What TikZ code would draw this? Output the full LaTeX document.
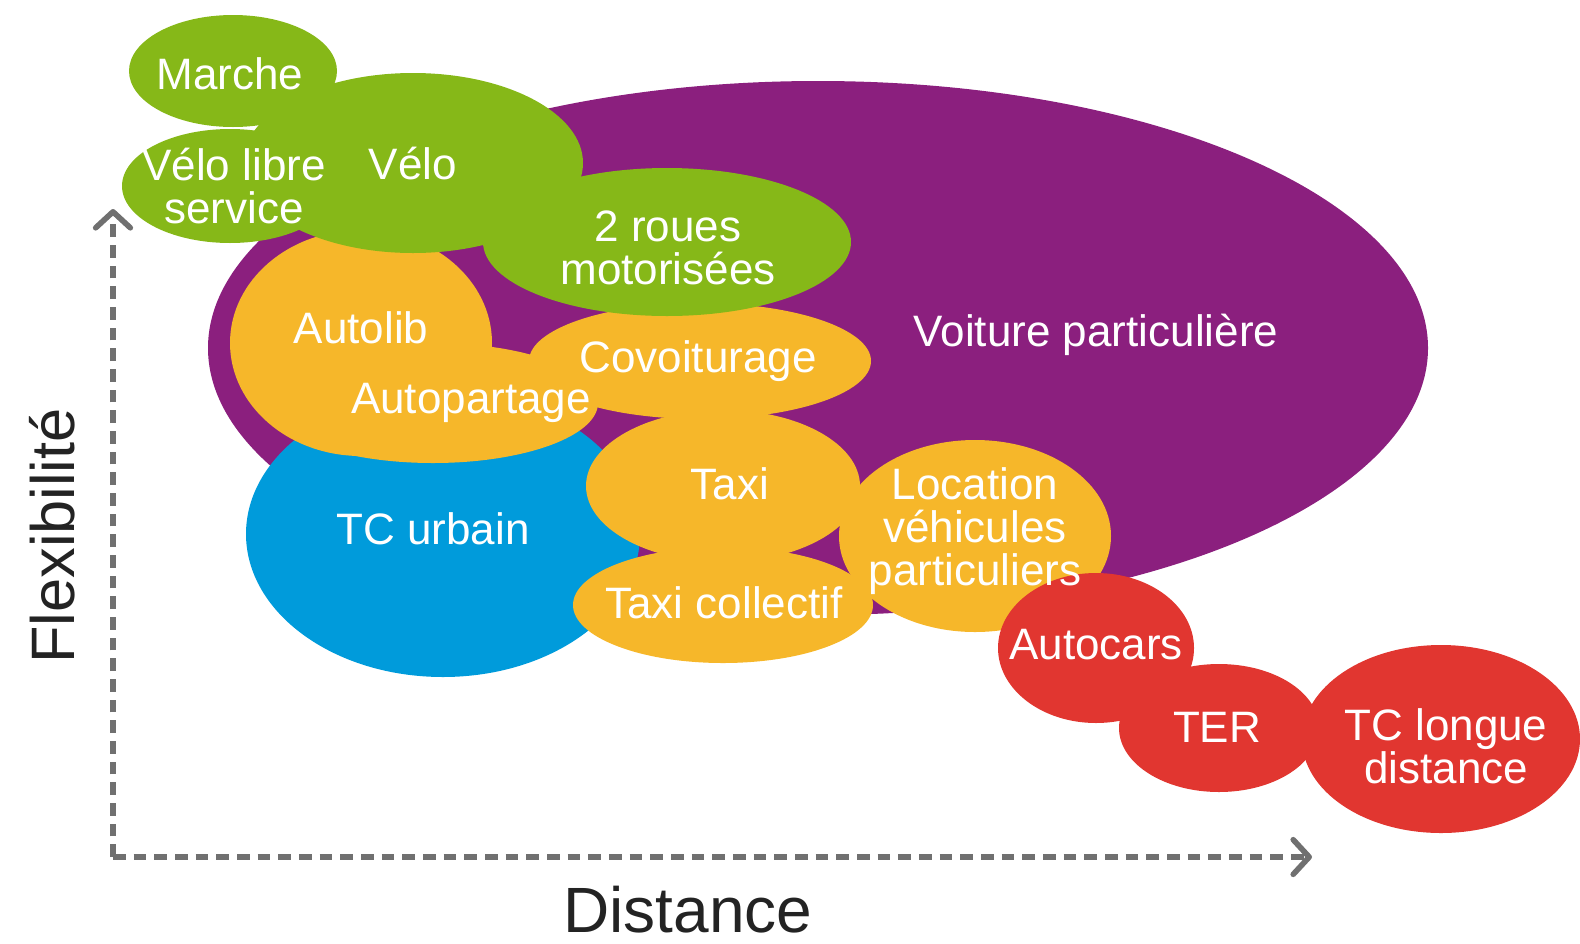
\documentclass[tikz,border=0pt]{standalone}
\usepackage{fontspec}
\setmainfont{Liberation Sans}
\usepackage{xcolor}
\usetikzlibrary{arrows.meta}

\begin{document}
\begin{tikzpicture}[x=0.75pt,y=0.75pt,yscale=-1,xscale=1,
  fillpurple/.style={fill={rgb, 255:red, 139; green, 31; blue, 126 }},
  fillblue/.style={fill={rgb, 255:red, 0; green, 155; blue, 219 }},
  fillorange/.style={fill={rgb, 255:red, 246; green, 183; blue, 42 }},
  fillgreen/.style={fill={rgb, 255:red, 134; green, 184; blue, 24 }},
  fillred/.style={fill={rgb, 255:red, 225; green, 54; blue, 48 }},
  lbl/.style={inner sep=0.75pt,align=center,text=white,font=\fontsize{33}{32.5}\selectfont},
  axis/.style={color={rgb, 255:red, 112; green, 112; blue, 112 },line width=4.2pt,dash pattern=on 9.5pt off 6pt,-{Straight Barb[round,length=12pt,width=26pt]}},
  axislbl/.style={inner sep=0pt,text={rgb, 255:red, 35; green, 35; blue, 35 }}]
\useasboundingbox (0,0) rectangle (1580,943);

%Shape: Ellipse [voiture]
\path [fillpurple] (818,348) ellipse [x radius=610, y radius=267];
%Shape: Ellipse [tc urbain]
\path [fillblue] (443,534) ellipse [x radius=197, y radius=143];
%Shape: Ellipse [autolib]
\path [fillorange] (361,343) ellipse [x radius=131, y radius=113];
%Shape: Ellipse [autopartage]
\path [fillorange] (433,403) ellipse [x radius=165, y radius=60];
%Shape: Ellipse [covoiturage]
\path [fillorange] (700,361) ellipse [x radius=171, y radius=58];
%Shape: Ellipse [taxi]
\path [fillorange] (723,486) ellipse [x radius=137, y radius=76];
%Shape: Ellipse [taxi collectif]
\path [fillorange] (723,605) ellipse [x radius=150, y radius=58];
%Shape: Ellipse [location]
\path [fillorange] (975,536) ellipse [x radius=136, y radius=96];
%Shape: Ellipse [marche]
\path [fillgreen] (233,71) ellipse [x radius=104, y radius=56];
%Shape: Ellipse [velo libre service]
\path [fillgreen] (230,186) ellipse [x radius=108, y radius=57];
%Shape: Ellipse [velo]
\path [fillgreen] (413,163) ellipse [x radius=170, y radius=90];
%Shape: Ellipse [2 roues]
\path [fillgreen] (667,242) ellipse [x radius=184, y radius=74];
%Shape: Ellipse [autocars]
\path [fillred] (1096,648) ellipse [x radius=98, y radius=75];
%Shape: Ellipse [ter]
\path [fillred] (1219,728) ellipse [x radius=100, y radius=64];
%Shape: Ellipse [tc longue distance]
\path [fillred] (1441,739) ellipse [x radius=139, y radius=94];

%Axes
\coordinate (origine) at (113,857);
\coordinate (flextip) at (113,209);
\coordinate (disttip) at (1312,857);
\draw [axis] (origine) -- (flextip);
\draw [axis] (origine) -- (disttip);

% Text Node
\node [lbl] (marche) at (230,74) {Marche};
% Text Node
\node [lbl] (vls) at (234,186) {Vélo libre\\service};
% Text Node
\node [lbl] (velo) at (413,164) {Vélo};
% Text Node
\node [lbl] (roues) at (668,248) {2 roues\\motorisées};
% Text Node
\node [lbl] (voiture) at (1096,335) {Voiture particulière};
% Text Node
\node [lbl] (autolib) at (361,328) {Autolib};
% Text Node
\node [lbl] (covoit) at (698,361) {Covoiturage};
% Text Node
\node [lbl] (autopart) at (471,403) {Autopartage};
% Text Node
\node [lbl] (taxi) at (730,484) {Taxi};
% Text Node
\node [lbl] (tcurbain) at (433,529) {TC urbain};
% Text Node
\node [lbl] (location) at (975,531) {Location\\véhicules\\particuliers};
% Text Node
\node [lbl] (taxicoll) at (724,603) {Taxi collectif};
% Text Node
\node [lbl] (autocars) at (1096,645) {Autocars};
% Text Node
\node [lbl] (ter) at (1217,727) {TER};
% Text Node
\node [lbl] (tclongue) at (1446,746) {TC longue\\distance};
% Text Node
\node [axislbl,rotate=90,font=\fontsize{46}{46}\selectfont] (flex) at (52,536) {Flexibilité};
% Text Node
\node [axislbl,anchor=base,font=\fontsize{48}{48}\selectfont] (dist) at (688,932) {Distance};

\end{tikzpicture}
\end{document}
